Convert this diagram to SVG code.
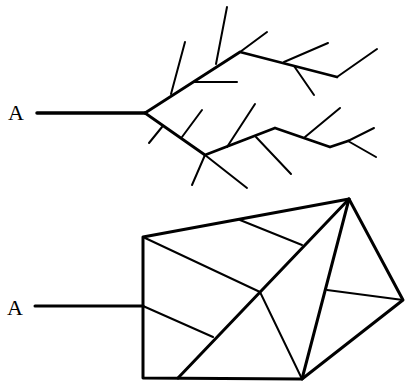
<svg xmlns="http://www.w3.org/2000/svg" width="405" height="383" viewBox="0 0 405 383">
<style>
.bg{fill:#fff}
line,polyline,polygon{stroke:#000;stroke-linecap:round;stroke-linejoin:round;fill:none}
.stem{stroke-width:3.5}
.br{stroke-width:2.8}
.tw{stroke-width:2}
.out{stroke-width:3}
.in{stroke-width:2}
text{font-family:"Liberation Serif","Times New Roman",serif;font-size:22px;fill:#000}
</style>
<rect class="bg" width="405" height="383"/>
<g id="tree">
  <text id="labelA1" x="8" y="120">A</text>
  <g id="tree-connectors">
    <line class="stem" x1="37" y1="113" x2="145" y2="113"/>
    <polyline class="br" points="145,113 240,52 337,77"/>
    <line class="tw" x1="337" y1="77" x2="377" y2="49"/>
    <line class="tw" x1="171" y1="94" x2="185" y2="42"/>
    <line class="tw" x1="193" y1="82" x2="237" y2="82"/>
    <line class="tw" x1="216" y1="64" x2="227" y2="7"/>
    <line class="tw" x1="240" y1="52" x2="267" y2="32"/>
    <line class="tw" x1="284" y1="62" x2="328" y2="43"/>
    <line class="tw" x1="294" y1="66" x2="314" y2="95"/>
    <polyline class="br" points="145,113 205,155 275,128 330,147 348,141"/>
    <line class="tw" x1="348" y1="141" x2="374" y2="128"/>
    <line class="tw" x1="348" y1="141" x2="376" y2="157"/>
    <line class="tw" x1="149" y1="143" x2="162" y2="127"/>
    <line class="tw" x1="182" y1="137" x2="202" y2="110"/>
    <line class="tw" x1="205" y1="155" x2="192" y2="185"/>
    <line class="tw" x1="205" y1="155" x2="247" y2="188"/>
    <line class="tw" x1="227" y1="147" x2="255" y2="104"/>
    <line class="tw" x1="256" y1="137" x2="291" y2="174"/>
    <line class="tw" x1="305" y1="137" x2="340" y2="108"/>
  </g>
</g>
<g id="net">
  <text id="labelA2" x="7" y="315">A</text>
  <g id="net-connectors">
    <line class="out" x1="35" y1="306" x2="143" y2="306"/>
    <polygon class="out" points="143,237 349,199 403,300 302,379 143,378"/>
    <line class="out" x1="349" y1="199" x2="302" y2="379"/>
    <line class="out" x1="349" y1="199" x2="178" y2="378"/>
    <polyline class="in" points="143,237 260,292 302,379"/>
    <line class="in" x1="240" y1="220" x2="302" y2="245"/>
    <line class="in" x1="143" y1="306" x2="213" y2="337"/>
    <line class="in" x1="327" y1="290" x2="403" y2="300"/>
  </g>
</g>
</svg>
